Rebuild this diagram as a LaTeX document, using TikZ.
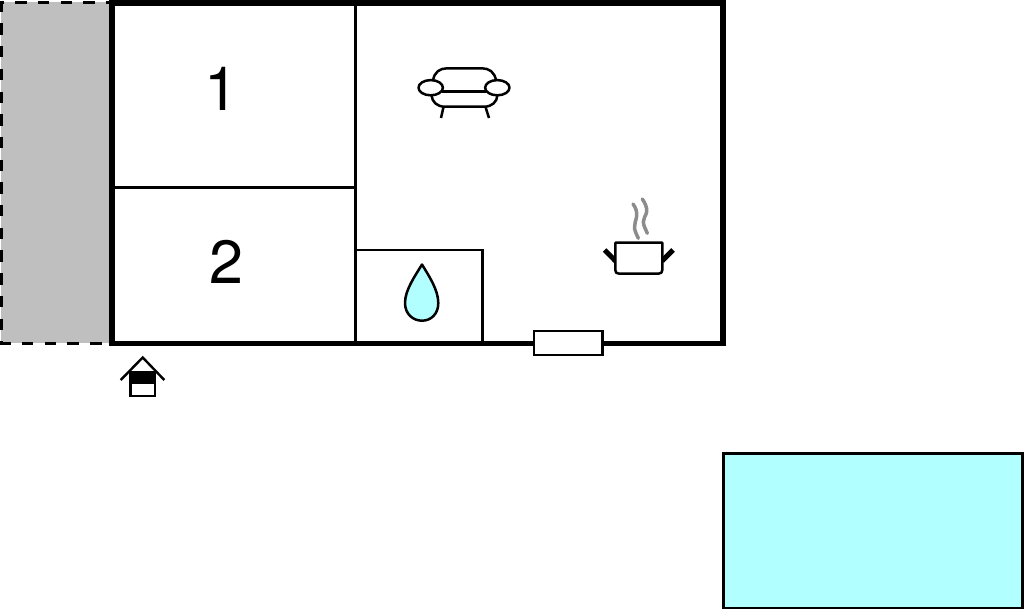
\documentclass[tikz,border=0pt]{standalone}
\usepackage{fontspec}
\setmainfont{TeX Gyre Heros}
\definecolor{poolblue}{HTML}{B2FFFF}
\definecolor{terrace}{HTML}{BFBFBF}
\tikzset{
  outerwall/.style={line width=5.5pt,line join=miter},
  innerwall/.style={line width=2.8pt},
  symbolline/.style={line width=2.5pt,line join=round},
  dashedge/.style={line width=3.5pt,dash pattern=on 11.4pt off 11.3pt},
  roomlabel/.style={font=\fontsize{61}{61}\selectfont,inner sep=0pt,anchor=base},
  steam/.style={line width=3.5pt,draw=black!45,line cap=round}
}
\begin{document}
\begin{tikzpicture}[x=1pt,y=-1pt]
\useasboundingbox (0,0) rectangle (1024,610);
% terrace
\fill[terrace] (1,2) rectangle (110,343);
\draw[dashedge] (-7.6,2.5) -- (110,2.5);
\draw[dashedge] (-0.7,343.5) -- (110,343.5);
\draw[dashedge] (1.2,0.7) -- (1.2,343);
% inner walls
\draw[innerwall] (355.5,3) -- (355.5,343);
\draw[innerwall] (112,187.5) -- (355.5,187.5);
\draw[innerwall] (355.5,250) -- (482.7,250) -- (482.7,343);
% outer walls
\draw[outerwall] (112,3) rectangle (723,343.5);
% window
\draw[innerwall,fill=white] (534,331) rectangle (602.7,355);
% labels
\node[roomlabel] (one) at (221.8,110) {1};
\node[roomlabel] (two) at (226.5,283.7) {2};
% sofa
\draw[symbolline] (433,81) .. controls (434,72) and (440,68.3) .. (447,68.3) -- (482,68.3) .. controls (489,68.3) and (495,72) .. (496,81);
\draw[symbolline] (431.5,95) .. controls (432,102) and (437,106.7) .. (445,106.7) -- (484,106.7) .. controls (492,106.7) and (497,102) .. (497.5,95);
\draw[symbolline] (442,91.7) -- (486,91.7);
\draw[symbolline] (430.7,87.7) ellipse [x radius=12.2,y radius=7.6];
\draw[symbolline] (497.3,87.7) ellipse [x radius=12.2,y radius=7.6];
\draw[symbolline] (443.5,107) -- (441,118);
\draw[symbolline] (485.5,107) -- (489,118);
% pot
\draw[steam] (633,204) .. controls (636,208) and (637,212) .. (636.7,216) .. controls (636,221) and (634,224) .. (634.5,228) .. controls (635,232) and (637,235) .. (638.3,238.3);
\draw[steam] (642.3,199) .. controls (645,203) and (647,207) .. (646.7,211.7) .. controls (646,216) and (643,218) .. (643.3,222) .. controls (643.6,226) and (646,230) .. (647.3,233.3);
\draw[line width=5pt] (615.5,261) -- (604.7,250);
\draw[line width=5pt] (662,261) -- (673,250);
\draw[symbolline,fill=white] (615.3,242.7) -- (662.3,242.7) -- (662.3,270) .. controls (662.3,272.5) and (661,273.5) .. (659,273.5) -- (618.5,273.5) .. controls (616.5,273.5) and (615.3,272.5) .. (615.3,270) -- cycle;
% bath drop
\draw[symbolline,fill=poolblue] (422,264.5) .. controls (415,276) and (405,290) .. (405,303) .. controls (405,314) and (413,320.7) .. (422,320.7) .. controls (431,320.7) and (438.3,314) .. (438.3,303) .. controls (438.3,290) and (429,276) .. (422,264.5) -- cycle;
% entrance
\draw[line width=2.4pt] (120.7,380) -- (142.7,357.5) -- (164.3,380);
\draw[line width=2.4pt,fill=white] (130.5,372) rectangle (155,396);
\fill (130.5,372) rectangle (155,383.5);
% pool
\draw[line width=2.8pt,fill=poolblue] (723.3,453.3) rectangle (1022.7,608);
\end{tikzpicture}
\end{document}
